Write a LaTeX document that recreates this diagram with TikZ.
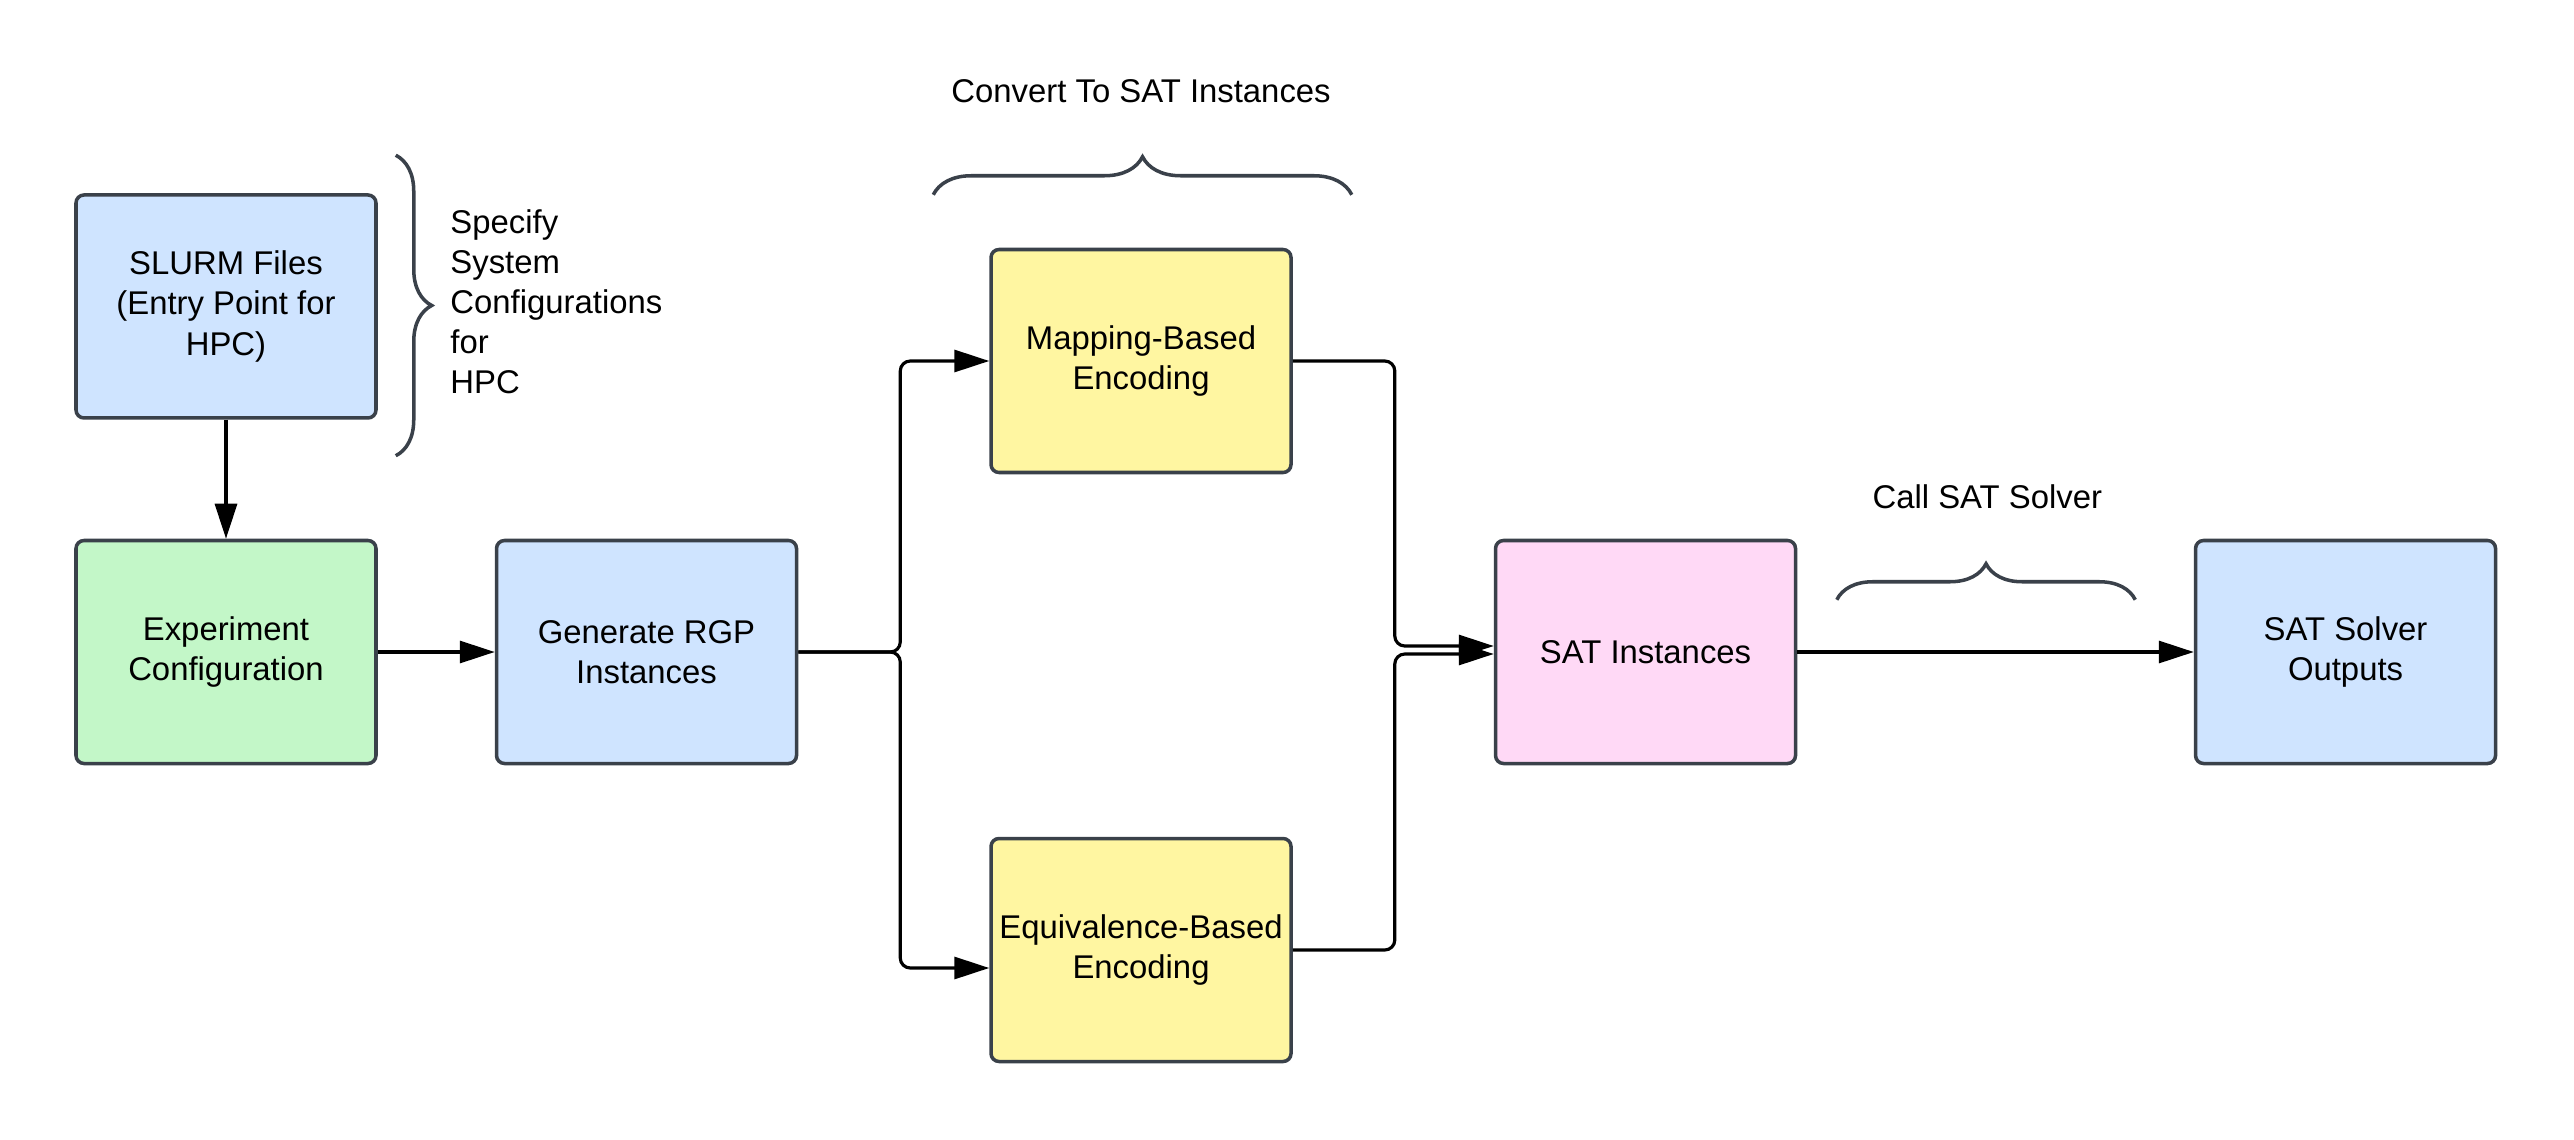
\documentclass[tikz,border=0pt]{standalone}
\usepackage{fontspec}
\setmainfont{Liberation Sans}
\usepackage{tikz}
\usetikzlibrary{arrows.meta, calc, decorations.pathreplacing, positioning}
\usepackage{xcolor}
\definecolor{LiteBlue}{HTML}{CFE4FF}
\definecolor{LiteGreen}{HTML}{C3F7C8}
\definecolor{PaleYellow}{HTML}{FFF6A1}
\definecolor{LitePink}{HTML}{FFD9F6}
\definecolor{SlateGrey}{HTML}{3A414A}
\tikzset{%
  lucid_block/.style={%
    rectangle,%
    rounded corners=0.08cm,%
    minimum width=3.0cm,%
    minimum height=2.23cm,%
    inner sep=0.02cm,%
    draw=SlateGrey,%
    line width=1pt,%
    font={\fontsize{9.35pt}{11.4pt}\selectfont},%
    align=center%
  },
  flow_path/.style={%
    color=black,%
    line join=round,%
    rounded corners=0.1cm,%
    line width=0.9pt,%
  },
  brace_mark/.style={%
    draw=SlateGrey,%
    line width=1pt,%
    decorate,%
    decoration={brace, amplitude=#1},%
  },
  note_text/.style={%
    font={\fontsize{9.35pt}{11.4pt}\selectfont},%
    inner sep=0pt,%
    align=left,%
  },
  arrow/.style={-{Triangle[length=0.35cm, width=0.22cm]}},
}
\begin{document}
\begin{tikzpicture}

    \useasboundingbox (0, 0) rectangle (25.74, 11.40);

    \node [lucid_block, fill=LiteBlue] (slurm) at (2.26, 8.335)
      {SLURM Files\\(Entry Point for\\HPC)};
    \node [lucid_block, fill=LiteGreen, below = 1.19 of slurm] (expt)
      {Experiment\\Configuration};
    \node [lucid_block, fill=LiteBlue, right = 1.17 of expt] (gen)
      {Generate RGP\\Instances};
    \node [lucid_block, fill=PaleYellow, right = 1.91 of gen, yshift=2.91cm] (mapping)
      {Mapping-Based\\Encoding};
    \node [lucid_block, fill=PaleYellow, right = 1.91 of gen, yshift=-2.98cm] (equiv)
      {Equivalence-Based\\Encoding};
    \node [lucid_block, fill=LitePink, right = 6.955 of gen] (satinst)
      {SAT Instances};
    \node [lucid_block, fill=LiteBlue, right = 3.965 of satinst] (outputs)
      {SAT Solver\\Outputs};

    \coordinate [right = 1.02 of gen.east] (split);
    \coordinate [right = 1.02 of mapping.east] (merge);

    \draw [arrow, flow_path]
      (slurm.south)
      --
      (expt.north);
    \draw [arrow, flow_path]
      (expt.east)
      --
      (gen.west);
    \draw [arrow, flow_path]
      (gen.east)
      --
      (split)
      |-
      (mapping.west);
    \draw [arrow, flow_path]
      (gen.east)
      --
      (split)
      |-
      ([yshift=-0.18cm]equiv.west);
    \draw [arrow, flow_path]
      (mapping.east)
      --
      (merge)
      |-
      ([yshift=0.06cm]satinst.west);
    \draw [arrow, flow_path]
      (equiv.east)
      --
      (equiv.east -| merge)
      |-
      ([yshift=-0.02cm]satinst.west);
    \draw [arrow, flow_path]
      (satinst.east)
      --
      (outputs.west);

    % braces and their notes
    \draw [brace_mark=0.36cm]
      ($(slurm.north east)+(0.18, 0.38)$) -- ($(slurm.south east)+(0.18, -0.36)$);
    \node [note_text, anchor=west] (specify) at ($(slurm.east)+(0.72, 0.05)$)
      {Specify\\System\\Configurations\\for\\HPC};

    \draw [brace_mark=0.38cm]
      ($(mapping.north west)+(-0.56, 0.53)$) -- ($(mapping.north east)+(0.59, 0.53)$);
    \node [note_text] (convert) at ($(mapping.north)+(0, 1.57)$)
      {Convert To SAT Instances};

    \draw [brace_mark=0.36cm]
      ($(satinst.north east)+(0.395, -0.61)$) -- ($(outputs.north west)+(-0.585, -0.61)$);
    \node [note_text] (callsolver) at ($(satinst.north east)+(1.90, 0.42)$)
      {Call SAT Solver};

\end{tikzpicture}
\end{document}
